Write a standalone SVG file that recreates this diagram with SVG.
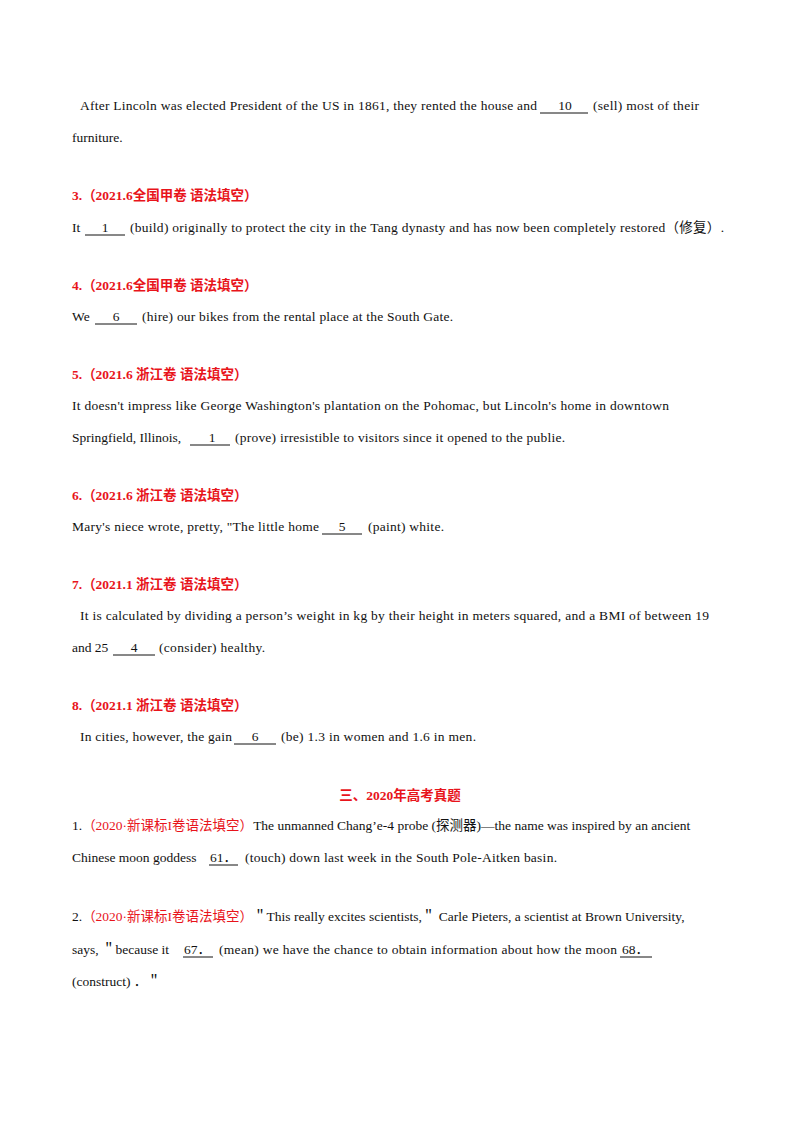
<svg xmlns="http://www.w3.org/2000/svg" width="800" height="1132" viewBox="0 0 800 1132">
<style>
text{font-family:"Liberation Serif","Noto Sans CJK SC",serif;font-size:13.5px;fill:#111}
.h{fill:#e8141b;font-weight:bold}
.r{fill:#e8141b}
.c{text-anchor:middle}
line{stroke:#111;stroke-width:1}
</style>
<rect width="800" height="1132" fill="#fff"/>
<text x="80" y="110" textLength="457" lengthAdjust="spacing">After Lincoln was elected President of the US in 1861, they rented the house and</text>
<line x1="540" y1="113" x2="588" y2="113"/><text class="c" x="565" y="110">10</text>
<text x="593" y="110" textLength="106" lengthAdjust="spacing">(sell) most of their</text>
<text x="72" y="142">furniture.</text>

<text class="h" x="72" y="200">3.（2021.6全国甲卷  语法填空）</text>
<text x="72" y="232">It</text>
<line x1="85" y1="235" x2="125" y2="235"/><text class="c" x="105" y="232">1</text>
<text x="130" y="232" textLength="594" lengthAdjust="spacing">(build) originally to protect the city in the Tang dynasty and has now been completely restored（修复）.</text>

<text class="h" x="72" y="290">4.（2021.6全国甲卷  语法填空）</text>
<text x="72" y="321">We</text>
<line x1="95" y1="324" x2="137" y2="324"/><text class="c" x="116" y="321">6</text>
<text x="142" y="321" textLength="311" lengthAdjust="spacing">(hire) our bikes from the rental place at the South Gate.</text>

<text class="h" x="72" y="379">5.（2021.6  浙江卷  语法填空）</text>
<text x="72" y="410" textLength="597" lengthAdjust="spacing">It doesn't impress like George Washington's plantation on the Pohomac, but Lincoln's home in downtown</text>
<text x="72" y="442">Springfield, Illinois,</text>
<line x1="190" y1="445" x2="230" y2="445"/><text class="c" x="212" y="442">1</text>
<text x="235" y="442" textLength="330" lengthAdjust="spacing">(prove) irresistible to visitors since it opened to the publie.</text>

<text class="h" x="72" y="500">6.（2021.6  浙江卷  语法填空）</text>
<text x="72" y="531" textLength="247" lengthAdjust="spacing">Mary's niece wrote, pretty, "The little home</text>
<line x1="322" y1="534" x2="362" y2="534"/><text class="c" x="342" y="531">5</text>
<text x="368" y="531" textLength="76" lengthAdjust="spacing">(paint) white.</text>

<text class="h" x="72" y="589">7.（2021.1  浙江卷  语法填空）</text>
<text x="80" y="620" textLength="629" lengthAdjust="spacing">It is calculated by dividing a person’s  weight in kg by their height in meters squared, and a BMI of between 19</text>
<text x="72" y="652">and 25</text>
<line x1="113" y1="655" x2="155" y2="655"/><text class="c" x="134" y="652">4</text>
<text x="159" y="652" textLength="106" lengthAdjust="spacing">(consider) healthy.</text>

<text class="h" x="72" y="710">8.（2021.1  浙江卷  语法填空）</text>
<text x="80" y="741" textLength="152" lengthAdjust="spacing">In cities, however, the gain</text>
<line x1="234" y1="744" x2="276" y2="744"/><text class="c" x="255" y="741">6</text>
<text x="281" y="741" textLength="195" lengthAdjust="spacing">(be) 1.3 in women and 1.6 in men.</text>

<text class="h c" x="400" y="800">三、2020年高考真题</text>
<text x="72" y="830">1.<tspan class="r">（2020·新课标I卷语法填空）</tspan><tspan>The unmanned Chang’e-4 probe (探测器)—the name was inspired by an ancient</tspan></text>
<text x="72" y="862">Chinese moon goddess</text>
<line x1="209" y1="865" x2="238" y2="865"/><text x="210" y="862">61．</text>
<text x="245" y="862" textLength="312" lengthAdjust="spacing">(touch) down last week in the South Pole-Aitken basin.</text>

<text x="72" y="921">2.<tspan class="r">（2020·新课标I卷语法填空）</tspan><tspan>＂This really excites scientists,＂ Carle Pieters, a scientist at Brown University,</tspan></text>
<text x="72" y="954">says, ＂because it</text>
<line x1="183" y1="957" x2="213" y2="957"/><text x="184" y="954">67．</text>
<text x="219" y="954" textLength="398" lengthAdjust="spacing">(mean) we have the chance to obtain information about how the moon</text>
<line x1="620" y1="957" x2="652" y2="957"/><text x="622" y="954">68．</text>
<text x="72" y="986">(construct) ．＂</text>
</svg>
